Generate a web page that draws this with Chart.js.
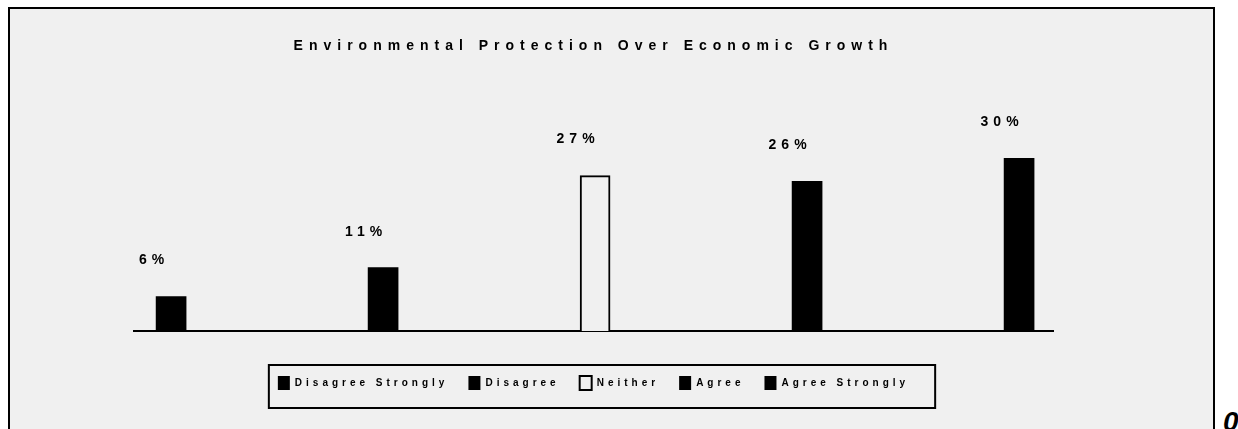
<!DOCTYPE html>
<html>
<head>
<meta charset="utf-8">
<script src="https://cdn.jsdelivr.net/npm/chart.js@4.4.1/dist/chart.umd.min.js"></script>
<style>
  html, body { margin: 0; padding: 0; background: #ffffff; width: 1238px; height: 429px; overflow: hidden; position: relative; }
  #panel { position: absolute; left: 8px; top: 7px; width: 1203px; height: 440px; background: #f0f0f0; border: 2px solid #000; border-bottom: none; }
  #wrap { position: absolute; left: 0; top: 0; width: 1238px; height: 429px; }
  #corner { position: absolute; left: 1223px; top: 406px; font: italic bold 28px "Liberation Sans", Arial, sans-serif; color: #000; }
</style>
</head>
<body>
<div id="panel"></div>
<div id="corner">0</div>
<div id="wrap"><canvas id="c" width="1238" height="429"></canvas></div>
<script>
// ---- data ----
const chartTitle = 'Environmental Protection Over Economic Growth';
const categories = ['Disagree Strongly', 'Disagree', 'Neither', 'Agree', 'Agree Strongly'];
const percents = [6, 11, 27, 26, 30];
const fillColors = ['#000000', '#000000', '#f0f0f0', '#000000', '#000000'];
const borderWidths = [0, 0, 2, 0, 0];

const FONT = '"Liberation Sans", Arial, sans-serif';

const datasets = categories.map((c, i) => ({
  label: c,
  data: [{ x: i, y: percents[i] }],
  backgroundColor: fillColors[i],
  borderColor: '#000000',
  borderWidth: borderWidths[i],
  barThickness: 30,
  grouped: false
}));

const spacingPlugin = {
  id: 'spacing',
  afterInit(chart) {
    const wrap = (obj, name, sp) => {
      if (!obj || !obj[name]) return;
      const orig = obj[name].bind(obj);
      obj[name] = function (...a) {
        const ctx = chart.ctx;
        const prev = ctx.letterSpacing;
        ctx.letterSpacing = sp;
        const r = orig(...a);
        ctx.letterSpacing = prev || '0px';
        return r;
      };
    };
    wrap(chart.titleBlock, 'draw', '6px');
    wrap(chart.legend, 'fit', '4px');
    wrap(chart.legend, 'draw', '4px');
  }
};

const labelPlugin = {
  id: 'valueLabels',
  afterDatasetsDraw(chart) {
    const ctx = chart.ctx;
    ctx.save();
    ctx.letterSpacing = '5px';
    ctx.font = 'bold 14px ' + FONT;
    ctx.fillStyle = '#000';
    ctx.textAlign = 'center';
    ctx.textBaseline = 'middle';
    chart.data.datasets.forEach((ds, i) => {
      const el = chart.getDatasetMeta(i).data[0];
      if (!el) return;
      ctx.fillText(percents[i] + '%', el.x - 17, el.y - 36);
    });
    ctx.restore();
  }
};

const legendBoxPlugin = {
  id: 'legendBox',
  afterDraw(chart) {
    const lg = chart.legend;
    if (!lg || !lg.legendHitBoxes || !lg.legendHitBoxes.length) return;
    const hb = lg.legendHitBoxes;
    const first = hb[0], last = hb[hb.length - 1];
    const ctx = chart.ctx;
    ctx.save();
    ctx.strokeStyle = '#000';
    ctx.lineWidth = 2;
    const left = first.left - 9;
    const right = last.left + last.width + 26;
    const top = first.top - 11;
    const bottom = first.top + 32;
    ctx.strokeRect(left, top, right - left, bottom - top);
    ctx.restore();
  }
};

new Chart(document.getElementById('c'), {
  type: 'bar',
  data: { datasets },
  plugins: [spacingPlugin, labelPlugin, legendBoxPlugin],
  options: {
    responsive: false,
    devicePixelRatio: 1,
    animation: false,
    layout: { padding: { left: 134, right: 185, top: 8, bottom: 29 } },
    plugins: {
      tooltip: { enabled: false },
      title: {
        display: true,
        text: chartTitle,
        color: '#000',
        font: { family: FONT, size: 14, weight: 'bold' },
        padding: { top: 30, bottom: 46 }
      },
      legend: {
        display: true,
        position: 'bottom',
        labels: {
          color: '#000',
          font: { family: FONT, size: 10, weight: 'bold' },
          boxWidth: 12,
          boxHeight: 14,
          padding: 20
        }
      }
    },
    scales: {
      x: {
        type: 'linear',
        offset: false,
        min: -0.175,
        max: 4.16,
        grid: { display: false },
        ticks: { display: false },
        border: { display: true, color: '#000', width: 2 },
        afterFit(s) { s.height = 25; }
      },
      y: {
        display: false,
        min: 0,
        max: 40
      }
    }
  }
});
</script>
</body>
</html>
